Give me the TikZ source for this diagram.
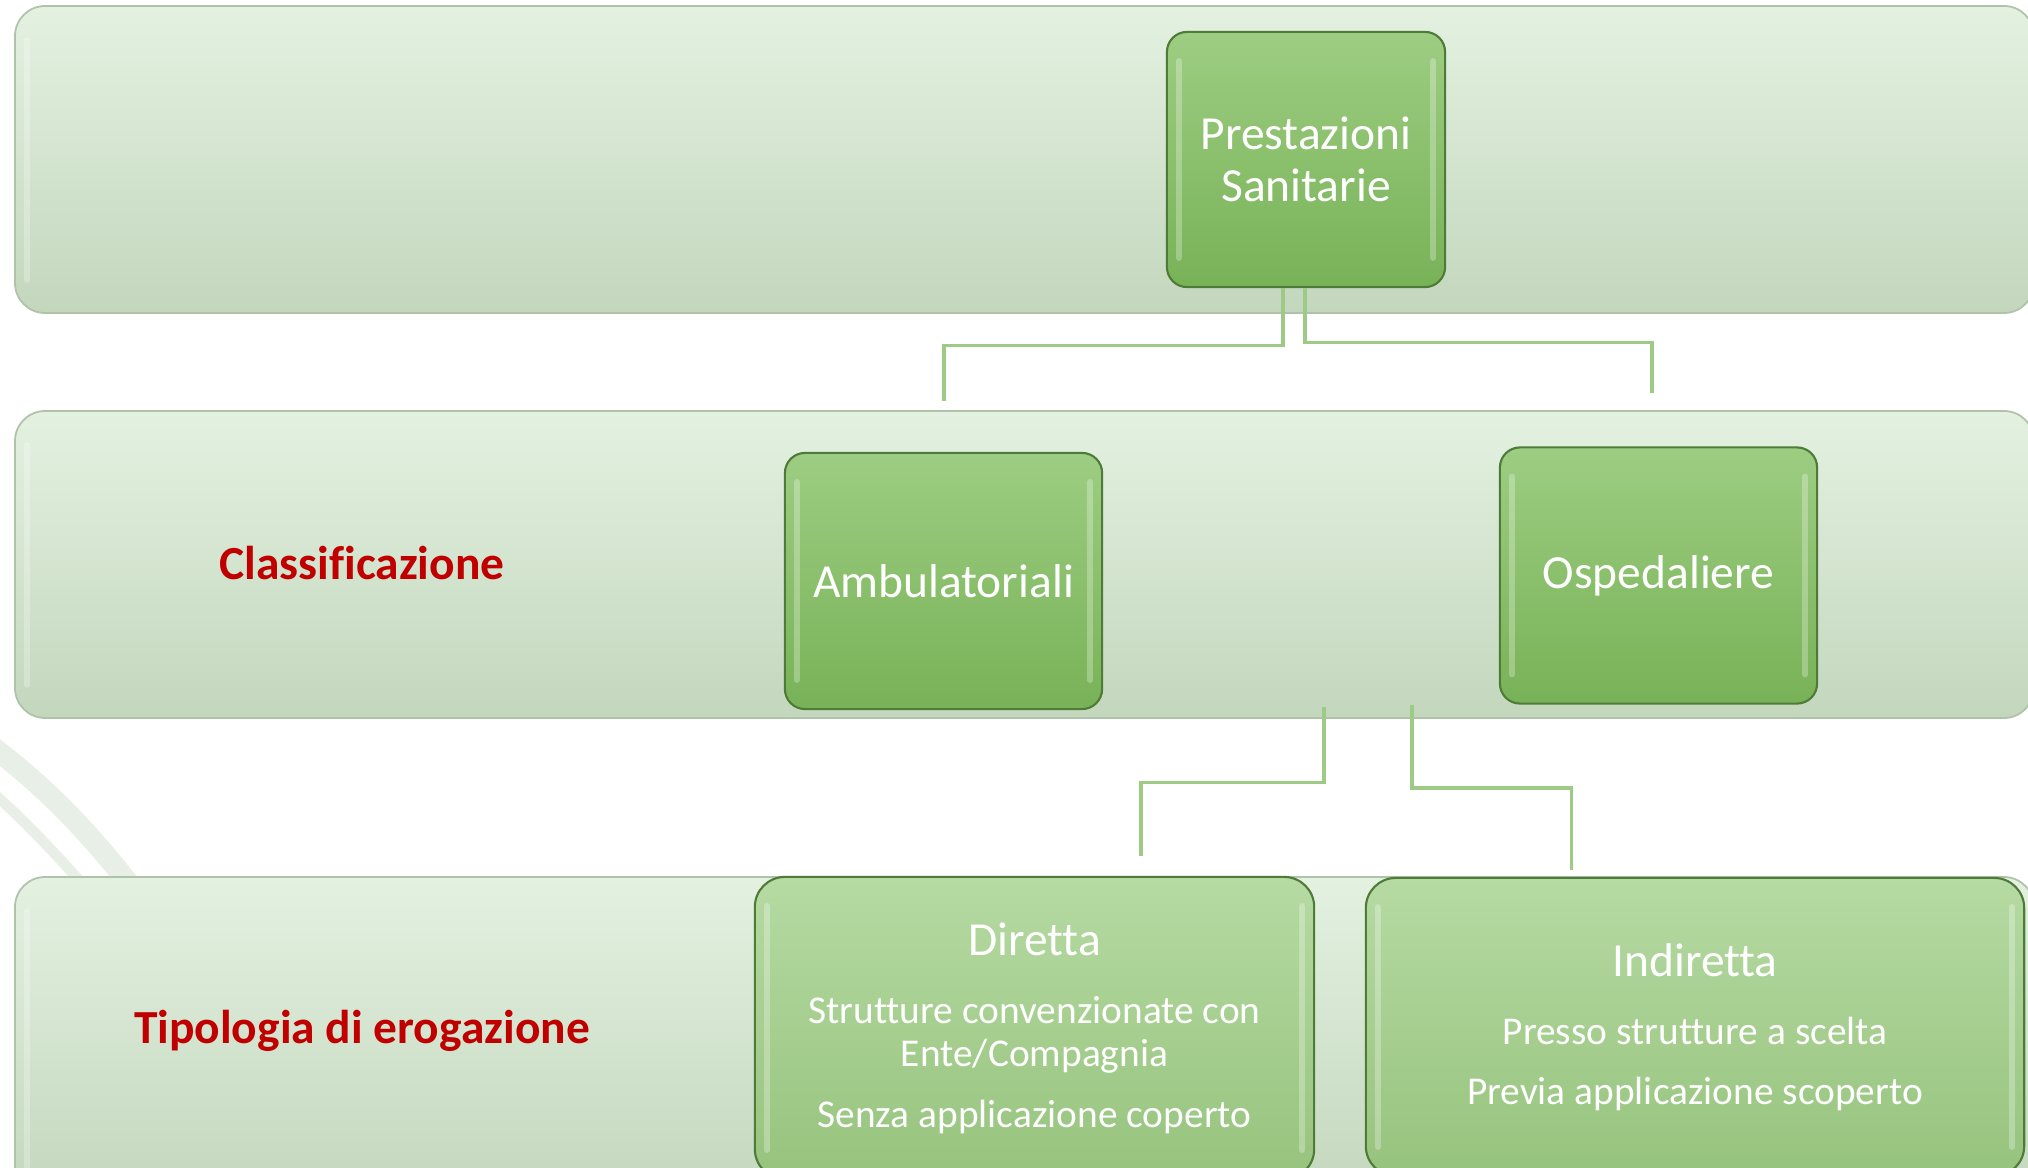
\documentclass[tikz,border=0pt]{standalone}
\usepackage{fontspec}
\setmainfont{Carlito}[Ligatures=NoCommon]
\usepackage{xcolor}
\usetikzlibrary{positioning}

\definecolor{bandtop}{HTML}{E4F1E1}
\definecolor{bandbot}{HTML}{C3D7BD}
\definecolor{bandline}{HTML}{AFC3AA}
\definecolor{boxtop}{HTML}{9DCD82}
\definecolor{boxbot}{HTML}{78B257}
\definecolor{boxline}{HTML}{4F7B39}
\definecolor{ltop}{HTML}{B6DAA3}
\definecolor{lbot}{HTML}{96C37D}
\definecolor{connline}{HTML}{9DCB85}
\definecolor{labelred}{HTML}{C00000}
\definecolor{swooshcol}{HTML}{E8EFE6}

% glossy edge highlights of a box
\newcommand{\shine}[1]{%
  \draw[shineline] ([xshift=0.13cm,yshift=-0.3cm]#1.north west) -- ([xshift=0.13cm,yshift=0.3cm]#1.south west);
  \draw[shineline] ([xshift=-0.13cm,yshift=-0.3cm]#1.north east) -- ([xshift=-0.13cm,yshift=0.3cm]#1.south east);
}

\begin{document}
\begin{tikzpicture}[x=0.01cm, y=-0.01cm,
                    band/.style={draw=bandline, line width=0.5pt, top color=bandtop, bottom color=bandbot, rounded corners=0.3cm},
                    darkbox/.style={draw=boxline, line width=0.6pt, top color=boxtop, bottom color=boxbot, rounded corners=0.2cm,
                                    text=white, align=center, inner sep=0pt, font=\fontsize{13.5}{14.8}\selectfont},
                    lightbox/.style={darkbox, top color=ltop, bottom color=lbot, rounded corners=0.3cm, font=\fontsize{11.2}{12.1}\selectfont},
                    conn/.style={draw=connline, line width=0.9pt},
                    lbl/.style={text=labelred, font=\bfseries\fontsize{13.5}{16}\selectfont},
                    swoosh/.style={draw=swooshcol, line width=6pt},
                    shineline/.style={draw=white, opacity=0.28, line width=1.6pt, line cap=round},
                   ]

\useasboundingbox (0,0) rectangle (2028,1167);
\clip (0,0) rectangle (2028,1167);
\fill[white] (0,0) rectangle (2028,1167);

% background
\draw[swoosh] (-10,745) .. controls (50,790) and (95,840) .. (130,885);
\draw[swoosh, line width=3pt] (-10,790) .. controls (35,830) and (75,875) .. (105,910);

% bands
\draw[band] (15,6) rectangle (2034,313);
\draw[band] (15,411) rectangle (2034,718);
\draw[band] (15,877) rectangle (2034,1200);
\draw[shineline, opacity=0.25] (27,40) -- (27,280);
\draw[shineline, opacity=0.25] (27,445) -- (27,685);
\draw[shineline, opacity=0.25] (27,911) -- (27,1167);

\node[lbl] (klass) at (362,563) {Classificazione};
\node[lbl] (tipo) at (362,1031) {Tipologia di erogazione};

% boxes
\node[darkbox, minimum width=2.78cm, minimum height=2.55cm] (prest) at (1306,159.5) {Prestazioni\\Sanitarie};
\node[darkbox, minimum width=3.17cm, minimum height=2.56cm] (ambu) at (943.5,581) {Ambulatoriali};
\node[darkbox, minimum width=3.17cm, minimum height=2.56cm] (osped) at (1658.5,575.5) {Ospedaliere};

\node[lightbox, minimum width=5.59cm, minimum height=3.02cm] (dir) at (1034.5,1028)
  {{\fontsize{13.5}{12.1}\selectfont Diretta}\\[7.4pt]Strutture convenzionate con\\Ente/Compagnia\\[5.2pt]Senza applicazione coperto};
\node[lightbox, minimum width=6.58cm, minimum height=2.98cm] (indir) at (1695,1027)
  {{\fontsize{13.5}{12.1}\selectfont Indiretta}\\[7.4pt]Presso strutture a scelta\\[4.8pt]Previa applicazione scoperto};

\shine{prest}
\shine{ambu}
\shine{osped}
\shine{dir}
\shine{indir}

% connectors
\coordinate (ka) at (944,401);
\coordinate (kb) at (1652,393);
\coordinate (kc0) at (1324,707);
\coordinate (kc) at (1141,856);
\coordinate (kd0) at (1412,705);
\coordinate (kd) at (1571.5,870);

\draw[conn] ([xshift=-0.23cm]prest.south) -- ++(0,57) -| (ka);
\draw[conn] ([xshift=-0.01cm]prest.south) -- ++(0,54.5) -| (kb);
\draw[conn] (kc0) -- ++(0,75.5) -| (kc);
\draw[conn] (kd0) -- ++(0,83) -| (kd);

\end{tikzpicture}
\end{document}
